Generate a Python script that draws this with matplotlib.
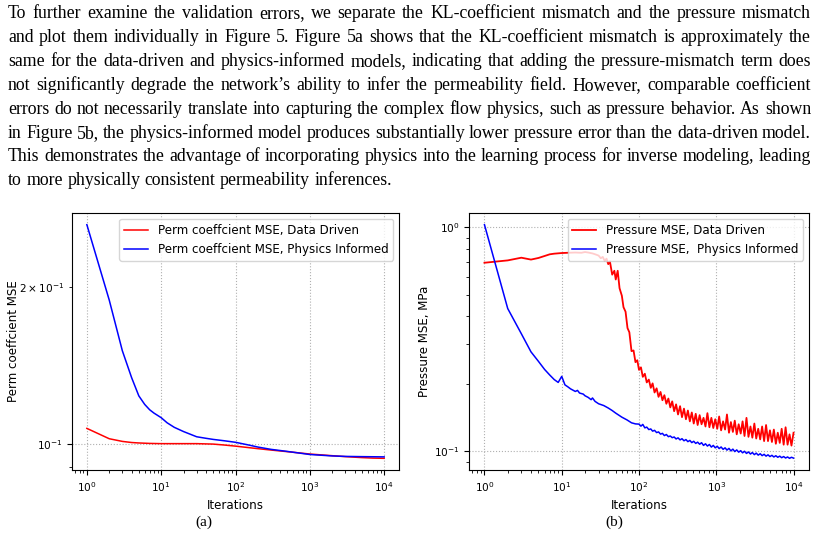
import math
import matplotlib
matplotlib.use('Agg')
import matplotlib.pyplot as plt
from matplotlib.font_manager import FontProperties

# ---------------- data ----------------
paragraph_lines = [
    "To further examine the validation errors, we separate the KL-coefficient mismatch and the pressure mismatch",
    "and plot them individually in Figure 5.  Figure 5a shows that the KL-coefficient mismatch is approximately the",
    "same for the data-driven and physics-informed models, indicating that adding the pressure-mismatch term does",
    "not significantly degrade the network\u2019s ability to infer the permeability field.  However, comparable coefficient",
    "errors do not necessarily translate into capturing the complex flow physics, such as pressure behavior. As shown",
    "in Figure 5b, the physics-informed model produces substantially lower pressure error than the data-driven model.",
    "This demonstrates the advantage of incorporating physics into the learning process for inverse modeling, leading",
    "to more physically consistent permeability inferences.",
]
captions = ["(a)", "(b)"]

perm_dd_x = [1, 2, 3, 4, 5, 7, 10, 20, 30, 50, 70, 100, 200, 300, 500, 1000, 2000, 3000, 5000, 7000, 10000]
perm_dd = [0.107, 0.1022, 0.1010, 0.1005, 0.1003, 0.1001, 0.1000, 0.1000, 0.1000, 0.0998, 0.0994,
           0.0989, 0.0978, 0.0972, 0.0965, 0.0955, 0.0948, 0.0944, 0.0940, 0.0938, 0.0937]

perm_pi_x = [1, 2, 3, 4, 5, 6, 7, 8, 10, 12, 15, 20, 30, 40, 50, 70, 100, 150, 200, 300, 500,
             1000, 2000, 3000, 5000, 10000]
perm_pi = [0.264, 0.189, 0.151, 0.134, 0.1236, 0.119, 0.1162, 0.1145, 0.1122, 0.1097, 0.1075, 0.1055,
           0.1031, 0.1024, 0.1019, 0.1013, 0.1006, 0.0994, 0.0985, 0.0975, 0.0966, 0.0953, 0.0947,
           0.0945, 0.0944, 0.0943]

pres_dd_early_x = [1, 2, 3, 4, 5, 6, 7, 8, 10, 12, 15, 18, 20, 22, 25, 28]
pres_dd_early = [0.695, 0.712, 0.732, 0.718, 0.730, 0.745, 0.758, 0.763, 0.768, 0.770, 0.772, 0.770,
                 0.776, 0.772, 0.765, 0.755]

dense_x = [30, 32, 34, 36, 38, 40, 42, 45, 48, 50,
           53, 56, 60, 63, 67, 71, 75, 80, 85, 90,
           95, 100, 106, 112, 119, 126, 134, 142, 150, 159,
           169, 179, 190, 201, 213, 226, 240, 254, 269, 285,
           302, 320, 340, 360, 382, 405, 429, 455, 482, 511,
           542, 574, 609, 645, 684, 725, 768, 815, 864, 915,
           970, 1030, 1090, 1155, 1225, 1300, 1375, 1460, 1545, 1640,
           1735, 1840, 1950, 2070, 2190, 2320, 2460, 2610, 2770, 2930,
           3110, 3290, 3490, 3700, 3920, 4160, 4410, 4670, 4950, 5250,
           5560, 5900, 6250, 6630, 7020, 7450, 7890, 8370, 8870, 9400,
           10000]

pres_dd_dense = [0.748, 0.728, 0.738, 0.708, 0.725, 0.685, 0.705, 0.615, 0.640, 0.585,
                 0.640, 0.535, 0.495, 0.440, 0.420, 0.355, 0.340, 0.280, 0.282, 0.250,
                 0.255, 0.231, 0.237, 0.215, 0.222, 0.203, 0.209, 0.192, 0.201, 0.183,
                 0.191, 0.175, 0.184, 0.169, 0.178, 0.163, 0.172, 0.157, 0.167, 0.151,
                 0.162, 0.146, 0.159, 0.142, 0.155, 0.139, 0.152, 0.136, 0.149, 0.133,
                 0.147, 0.131, 0.145, 0.132, 0.141, 0.129, 0.148, 0.128, 0.141, 0.127,
                 0.139, 0.126, 0.143, 0.124, 0.136, 0.125, 0.146, 0.121, 0.135, 0.122,
                 0.137, 0.119, 0.132, 0.120, 0.136, 0.117, 0.141, 0.116, 0.129, 0.115,
                 0.133, 0.114, 0.126, 0.113, 0.129, 0.111, 0.131, 0.111, 0.124, 0.110,
                 0.125, 0.108, 0.121, 0.109, 0.126, 0.107, 0.128, 0.107, 0.119, 0.106,
                 0.121]

pres_pi_early_x = [1, 2, 3, 4, 5, 6, 7, 8, 9, 10, 11, 12, 13, 15, 16, 17, 19, 20, 22, 24, 25, 27,
                   30, 35, 40, 45, 50, 60, 70, 80, 90]
pres_pi_early = [1.028, 0.434, 0.335, 0.278, 0.252, 0.232, 0.219, 0.209, 0.203, 0.216, 0.198, 0.194,
                 0.190, 0.185, 0.187, 0.182, 0.180, 0.177, 0.174, 0.170, 0.173, 0.167, 0.163, 0.160,
                 0.156, 0.152, 0.148, 0.142, 0.138, 0.134, 0.1325]

pres_pi_dense = [0.1322, 0.1295, 0.1318, 0.1272, 0.1282, 0.1250, 0.1258, 0.1230, 0.1240, 0.1212,
                 0.1220, 0.1193, 0.1202, 0.1175, 0.1188, 0.1162, 0.1170, 0.1150, 0.1158, 0.1135,
                 0.1148, 0.1124, 0.1138, 0.1114, 0.1128, 0.1104, 0.1118, 0.1093, 0.1108, 0.1084,
                 0.1098, 0.1075, 0.1092, 0.1062, 0.1080, 0.1055, 0.1072, 0.1044, 0.1062, 0.1036,
                 0.1053, 0.1028, 0.1045, 0.1020, 0.1036, 0.1012, 0.1030, 0.1004, 0.1022, 0.0997,
                 0.1014, 0.0991, 0.1006, 0.0984, 0.1000, 0.0978, 0.0993, 0.0972, 0.0987, 0.0966,
                 0.0981, 0.0961, 0.0975, 0.0956, 0.0969, 0.0951, 0.0964, 0.0947, 0.0959, 0.0943,
                 0.0955, 0.0940, 0.0951, 0.0936, 0.0947, 0.0933, 0.0943, 0.0930, 0.0940, 0.0932]

# ---------------- figure ----------------
W, H = 818, 542
plt.rcParams['font.size'] = 8.6
plt.rcParams['xtick.labelsize'] = 7.6
plt.rcParams['ytick.labelsize'] = 7.6
fig = plt.figure(figsize=(W / 100, H / 100), dpi=100)

ax1 = fig.add_axes([72 / W, 1 - 470 / H, (399 - 72) / W, (470 - 213) / H])
ax2 = fig.add_axes([469 / W, 1 - 470 / H, (809 - 469) / W, (470 - 213) / H])

lw = 1.1
ax1.plot(perm_dd_x, perm_dd, color='red', lw=lw, label='Perm coeffcient MSE, Data Driven')
ax1.plot(perm_pi_x, perm_pi, color='blue', lw=lw, label='Perm coeffcient MSE, Physics Informed')
ax1.set_xscale('log')
ax1.set_yscale('log')
ax1.set_xlabel('Iterations')
ax1.set_ylabel('Perm coeffcient MSE', va='center')
ax1.yaxis.set_label_coords((14 - 72) / 327, 0.5)
ax1.grid(True, which='major', linestyle=':')
ax1.legend(loc='upper right')

pdd_x = pres_dd_early_x + dense_x
pdd_y = pres_dd_early + pres_dd_dense
ppi_x = pres_pi_early_x + dense_x[21:]
ppi_y = pres_pi_early + pres_pi_dense
ax2.plot(pdd_x, pdd_y, color='red', lw=1.3, label='Pressure MSE, Data Driven')
ax2.plot(ppi_x, ppi_y, color='blue', lw=lw, label='Pressure MSE,  Physics Informed')
ax2.set_xscale('log')
ax2.set_yscale('log')
ax2.set_xlabel('Iterations')
ax2.set_ylabel('Pressure MSE, MPa', va='center')
ax2.yaxis.set_label_coords((424.5 - 469) / 340, 0.5)
ax2.grid(True, which='major', linestyle=':')
ax2.legend(loc='upper right')

# ---------------- paragraph (justified, word by word) ----------------
renderer = fig.canvas.get_renderer()
serif = 'Liberation Serif'
fs = 12.8
left_px, right_px = 8, 811
ta = fig.text(0, 0, 'x x', fontsize=fs, family=serif)
tb = fig.text(0, 0, 'xx', fontsize=fs, family=serif)
space_w = ta.get_window_extent(renderer).width - tb.get_window_extent(renderer).width
ta.remove(); tb.remove()

# per-word descent, used to keep every word on the same pixel baseline
try:
    from matplotlib.backends.backend_agg import get_hinting_flag
    _font = renderer._prepare_font(FontProperties(family=serif, size=fs))

    def word_shift(word):
        _font.set_text(word, 0, flags=get_hinting_flag())
        d = _font.get_descent() / 64.0
        return math.ceil(d) - d
except Exception:
    def word_shift(word):
        return 0.0

for i, line in enumerate(paragraph_lines):
    base_top = round(18 + i * 23.9)
    words = line.split()
    texts = []
    for w in words:
        ytop = base_top + word_shift(w)
        texts.append(fig.text(0, 1 - ytop / H, w, fontsize=fs, family=serif, va='baseline'))
    widths = [t.get_window_extent(renderer).width for t in texts]
    if i < len(paragraph_lines) - 1:
        gap = (right_px - left_px - sum(widths)) / (len(words) - 1)
    else:
        gap = space_w
    x = left_px
    for t, w in zip(texts, widths):
        t.set_x(x / W)
        x += w + gap

fig.text(203.5 / W, 1 - 522 / H, captions[0], fontsize=11, family=serif, ha='center', va='center')
fig.text(614.5 / W, 1 - 522 / H, captions[1], fontsize=11, family=serif, ha='center', va='center')

fig.savefig('out.png', dpi=100)
